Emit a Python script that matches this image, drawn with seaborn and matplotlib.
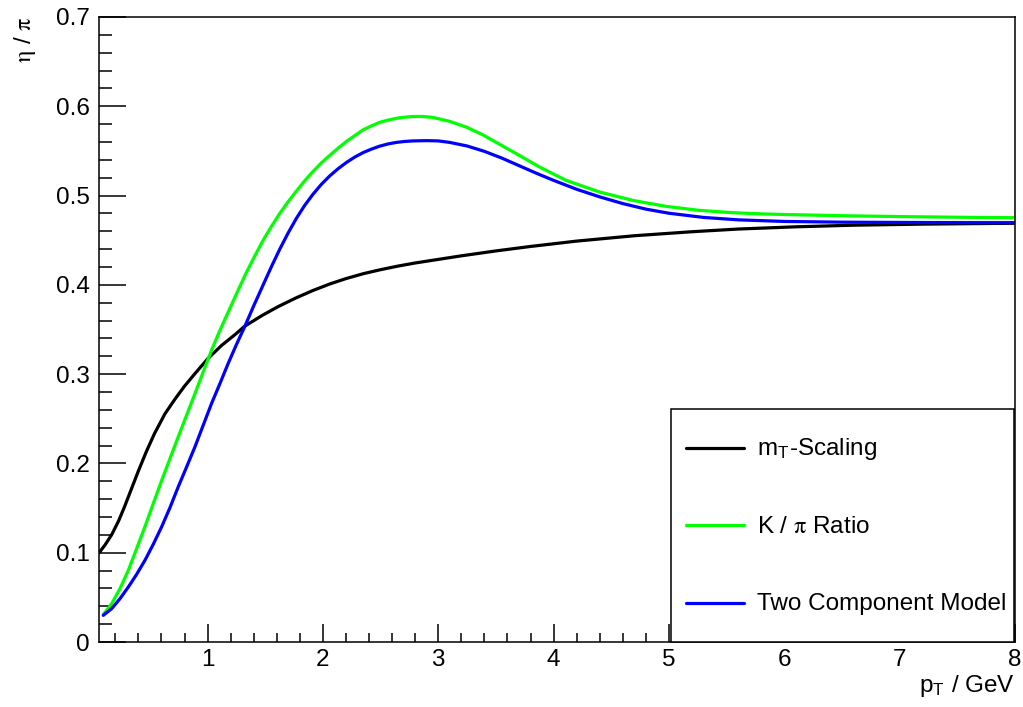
import numpy as np
import pandas as pd
import matplotlib
matplotlib.use("Agg")
import matplotlib.pyplot as plt
import seaborn as sns
from matplotlib.ticker import MultipleLocator, FuncFormatter
from matplotlib.legend_handler import HandlerLine2D
from matplotlib.lines import Line2D

# ---- data ----
mt_x = [0.06, 0.11, 0.17, 0.23, 0.28, 0.34, 0.40, 0.47, 0.54, 0.63, 0.72, 0.80, 0.89,
        1.00, 1.12, 1.24, 1.32, 1.47, 1.61, 1.76, 1.91, 2.06, 2.2, 2.35, 2.5, 2.65,
        2.8, 2.95, 3.2, 3.5, 3.8, 4.2, 4.7, 5.2, 5.6, 6.1, 6.6, 7.2, 8.0]
mt_y = [0.100, 0.1085, 0.1205, 0.136, 0.1515, 0.1715, 0.1915, 0.2135, 0.2335, 0.2555,
        0.2725, 0.2865, 0.3005, 0.317, 0.332, 0.3445, 0.3535, 0.3655, 0.3755, 0.385,
        0.3935, 0.401, 0.407, 0.4125, 0.417, 0.421, 0.4245, 0.4275, 0.4325, 0.438,
        0.443, 0.449, 0.455, 0.4595, 0.4625, 0.465, 0.4668, 0.468, 0.469]

kpi_x = [0.096, 0.169, 0.241, 0.313, 0.385, 0.457, 0.529, 0.601, 0.674, 0.745, 0.818,
         0.89, 0.962, 1.034, 1.107, 1.193, 1.265, 1.337, 1.41, 1.482, 1.554, 1.626,
         1.698, 1.77, 1.842, 1.914, 1.986, 2.059, 2.131, 2.203, 2.275, 2.347, 2.42,
         2.492, 2.564, 2.636, 2.71, 2.78, 2.86, 2.953, 3.1, 3.242, 3.386, 3.53, 3.675,
         3.877, 4.108, 4.397, 4.685, 4.974, 5.262, 5.55, 5.84, 6.128, 6.6, 7.1, 7.6, 8.0]
kpi_y = [0.0307, 0.043, 0.0598, 0.0803, 0.1046, 0.1292, 0.155, 0.1805, 0.2054, 0.2296,
         0.2539, 0.278, 0.3024, 0.3267, 0.349, 0.3735, 0.394, 0.414, 0.4325, 0.450,
         0.4655, 0.480, 0.493, 0.505, 0.5165, 0.527, 0.5365, 0.545, 0.553, 0.5605,
         0.567, 0.5735, 0.578, 0.582, 0.5845, 0.5865, 0.5878, 0.5885, 0.5886, 0.5875,
         0.583, 0.5767, 0.568, 0.5575, 0.547, 0.532, 0.517, 0.504, 0.4946, 0.4879,
         0.4834, 0.4808, 0.4793, 0.4784, 0.4772, 0.4763, 0.4756, 0.4752]

two_x = [0.096, 0.169, 0.241, 0.313, 0.385, 0.457, 0.529, 0.601, 0.674, 0.745, 0.818,
         0.89, 0.962, 1.034, 1.107, 1.178, 1.251, 1.323, 1.40, 1.482, 1.554, 1.626,
         1.698, 1.77, 1.842, 1.914, 1.986, 2.059, 2.131, 2.203, 2.275, 2.347, 2.42,
         2.492, 2.564, 2.636, 2.71, 2.78, 2.9, 3.0, 3.1, 3.25, 3.4, 3.55, 3.7, 3.85,
         4.0, 4.2, 4.4, 4.6, 4.8, 5.0, 5.3, 5.6, 6.0, 6.5, 7.0, 7.5, 8.0]
two_y = [0.0299, 0.0374, 0.0486, 0.0616, 0.0758, 0.0915, 0.1094, 0.1288, 0.1505,
         0.1736, 0.196, 0.2184, 0.2427, 0.267, 0.2894, 0.3118, 0.3334, 0.3535, 0.3765,
         0.400, 0.4205, 0.440, 0.458, 0.4745, 0.489, 0.5015, 0.5125, 0.522, 0.530,
         0.537, 0.543, 0.548, 0.552, 0.5553, 0.5578, 0.5595, 0.5606, 0.5612, 0.5615,
         0.5612, 0.5595, 0.5555, 0.5495, 0.542, 0.5335, 0.525, 0.517, 0.507, 0.4985,
         0.491, 0.4848, 0.4802, 0.4755, 0.4728, 0.4710, 0.4702, 0.4699, 0.4697, 0.4696]

series_labels = [r"m$_\mathregular{T}$-Scaling", r"K / $\mathrm{\pi}$ Ratio",
                 "Two Component Model"]
series_colors = ["#000000", "#00ff00", "#0000ff"]
x_label = r"p$_\mathregular{T}$ / GeV"
y_label = r"$\mathrm{\eta}$ / $\mathrm{\pi}$"

# ---- style ----
sns.set_theme(style="white")
plt.rcParams["font.family"] = ["Liberation Sans", "DejaVu Sans"]
plt.rcParams["mathtext.fontset"] = "stix"
for k in ["text.color", "axes.labelcolor", "xtick.color", "ytick.color", "axes.edgecolor"]:
    plt.rcParams[k] = "black"


class CenteredLineHandler(HandlerLine2D):
    """Legend line handler that lowers the sample line to the text's middle."""
    def __init__(self, shift, **kw):
        super().__init__(**kw)
        self._shift = shift

    def create_artists(self, legend, orig_handle, xdescent, ydescent, width, height,
                       fontsize, trans):
        arts = super().create_artists(legend, orig_handle, xdescent, ydescent, width,
                                      height, fontsize, trans)
        for a in arts:
            a.set_ydata(np.asarray(a.get_ydata(), dtype=float) - self._shift)
        return arts


fig = plt.figure(figsize=(10.23, 7.07), dpi=100)
ax = fig.add_axes([0.0968, 0.0919, 0.8954, 0.8841])

frames = []
for xs, ys, lab in zip([mt_x, kpi_x, two_x], [mt_y, kpi_y, two_y], series_labels):
    frames.append(pd.DataFrame({"pT": xs, "ratio": ys, "model": lab}))
df = pd.concat(frames, ignore_index=True)

for lab, col in zip(series_labels, series_colors):
    sub = df[df["model"] == lab]
    sns.lineplot(data=sub, x="pT", y="ratio", color=col, linewidth=2.3,
                 label=lab, estimator=None, ax=ax)

ax.set_xlim(0.059, 8.0)
ax.set_ylim(0, 0.7)

ax.xaxis.set_major_locator(MultipleLocator(1))
ax.xaxis.set_minor_locator(MultipleLocator(0.2))
ax.yaxis.set_major_locator(MultipleLocator(0.1))
ax.yaxis.set_minor_locator(MultipleLocator(0.02))
fmt = FuncFormatter(lambda v, p: f"{v:g}")
ax.xaxis.set_major_formatter(fmt)
ax.yaxis.set_major_formatter(fmt)

ax.tick_params(which="both", direction="in", top=False, right=False,
               bottom=True, left=True, width=1.1, color="black")
ax.tick_params(axis="y", which="major", length=19.4, pad=6.5, labelsize=17.5)
ax.tick_params(axis="y", which="minor", length=9.4)
ax.tick_params(axis="x", which="major", length=13, pad=5, labelsize=17.5)
ax.tick_params(axis="x", which="minor", length=6.5)

for s in ax.spines.values():
    s.set_visible(True)
    s.set_linewidth(1.1)
    s.set_color("black")

ax.set_xlabel(x_label, fontsize=17.5, ha="right", va="top")
ax.xaxis.set_label_coords(1.0, -0.049)
ax.set_ylabel(y_label, fontsize=17.5, rotation=90, ha="right", va="center",
              rotation_mode="anchor")
ax.yaxis.set_label_coords(-0.081, 1.0)

leg = ax.legend(loc="lower left", bbox_to_anchor=(0.6245, 0.0, 0.3745, 0.381),
                mode="expand", borderaxespad=0, fontsize=17.5, handlelength=2.4,
                handleheight=2.72, handletextpad=0.53, labelspacing=1.18,
                borderpad=0.6, frameon=True, fancybox=False, framealpha=1,
                edgecolor="black",
                handler_map={Line2D: CenteredLineHandler(shift=6.0)})
leg.get_frame().set_linewidth(1.1)
leg.get_frame().set_facecolor("white")

fig.savefig("out.png", dpi=100)
